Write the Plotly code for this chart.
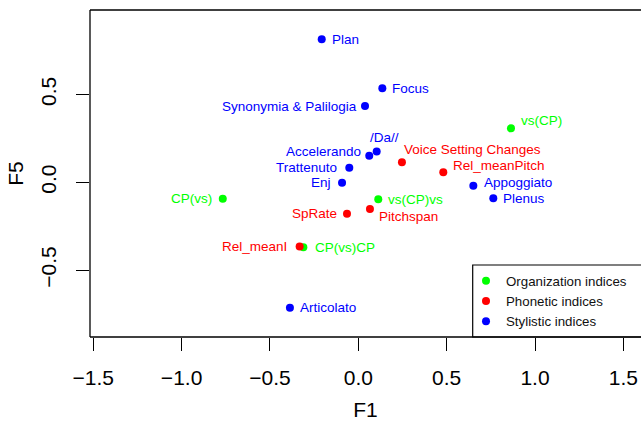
import plotly.graph_objects as go

# ---- data ----
org_labels = ["CP(vs)", "vs(CP)vs", "CP(vs)CP", "vs(CP)"]
org_x = [-0.767, 0.113, -0.311, 0.864]
org_y = [-0.093, -0.097, -0.370, 0.307]

phon_labels = ["Voice Setting Changes", "Rel_meanPitch", "SpRate", "Pitchspan", "Rel_meanI"]
phon_x = [0.247, 0.481, -0.064, 0.066, -0.332]
phon_y = [0.114, 0.057, -0.179, -0.152, -0.366]

sty_labels = ["Plan", "Focus", "Synonymia & Palilogia", "/Da//", "Accelerando",
              "Trattenuto", "Enj", "Appoggiato", "Plenus", "Articolato"]
sty_x = [-0.207, 0.136, 0.038, 0.104, 0.062, -0.051, -0.092, 0.651, 0.764, -0.387]
sty_y = [0.814, 0.535, 0.434, 0.176, 0.151, 0.083, -0.002, -0.019, -0.091, -0.714]

group_names = ["Organization indices", "Phonetic indices", "Stylistic indices"]
x_ticks = [-1.5, -1.0, -0.5, 0.0, 0.5, 1.0, 1.5]
y_ticks = [-0.5, 0.0, 0.5]

# ---- label placement (anchor, dx px, dy px) ----
label_place = {
    "CP(vs)": ("right", -9, 0), "vs(CP)vs": ("left", 8, 0), "CP(vs)CP": ("left", 10, 0),
    "vs(CP)": ("left", 8, 7.5),
    "Voice Setting Changes": ("left", 0, 13), "Rel_meanPitch": ("left", 8, 7),
    "SpRate": ("right", -8, 0), "Pitchspan": ("left", 7, -7), "Rel_meanI": ("right", -11, 0),
    "Plan": ("left", 8, 0), "Focus": ("left", 8, 0), "Synonymia & Palilogia": ("right", -6, 0),
    "/Da//": ("center", 8, 14), "Accelerando": ("right", -6, 4), "Trattenuto": ("right", -10, 0),
    "Enj": ("right", -9, 0), "Appoggiato": ("left", 9, 3.5), "Plenus": ("left", 8, 0),
    "Articolato": ("left", 8.5, 0),
}

FONT = "Liberation Sans, Arial, Helvetica, sans-serif"
groups = [
    (group_names[0], org_x, org_y, org_labels, "#00ff00"),
    (group_names[1], phon_x, phon_y, phon_labels, "#ff0000"),
    (group_names[2], sty_x, sty_y, sty_labels, "#0000ff"),
]

fig = go.Figure()
annotations = []
for name, xs, ys, labs, col in groups:
    fig.add_trace(go.Scatter(
        x=xs, y=ys, mode="markers", name=name,
        marker=dict(color=col, size=8, line=dict(width=0)),
        hoverinfo="text", text=labs,
    ))
    for x, y, lab in zip(xs, ys, labs):
        anc, dx, dy = label_place[lab]
        annotations.append(dict(
            x=x, y=y, xref="x", yref="y", text=lab, showarrow=False,
            xanchor=anc, yanchor="middle", xshift=dx, yshift=dy,
            font=dict(family=FONT, size=13.5, color=col),
        ))

W, H = 641, 426
L, R, T, B = 90, 0, 10, 89
pw, ph = W - L - R, H - T - B

line = dict(color="black", width=1.3)
shapes = [
    dict(type="line", xref="paper", yref="paper", x0=0, x1=0, y0=0, y1=1, line=line),
    dict(type="line", xref="paper", yref="paper", x0=0, x1=1.05, y0=1, y1=1, line=line),
    dict(type="line", xref="paper", yref="paper", x0=0, x1=1.05, y0=0, y1=0, line=line),
    # legend frame
    dict(type="rect", xref="paper", yref="paper",
         x0=(472.7 - L) / pw, x1=1.05, y0=0, y1=(H - B - 265) / ph,
         line=dict(color="black", width=1.2), fillcolor="white", layer="below"),
]

fig.update_layout(
    width=W, height=H,
    margin=dict(l=L, r=R, t=T, b=B, pad=0),
    paper_bgcolor="white", plot_bgcolor="white",
    font=dict(family=FONT, color="black"),
    shapes=shapes,
    annotations=annotations,
    showlegend=True,
    legend=dict(
        x=(466 - L) / pw, y=(H - B - 265.5) / ph, xanchor="left", yanchor="top",
        bgcolor="rgba(0,0,0,0)", borderwidth=0,
        font=dict(family=FONT, size=13.3, color="#111"),
        tracegroupgap=0, itemwidth=30,
    ),
    xaxis=dict(
        range=[-1.5184, 1.5999], showgrid=False, zeroline=False, showline=False,
        tickmode="array", tickvals=x_ticks, ticktext=[("\u2212" if v < 0 else "") + f"{abs(v):.1f}" for v in x_ticks],
        ticks="outside", ticklen=13, tickwidth=1.3, tickcolor="black", ticklabelstandoff=9,
        tickfont=dict(family=FONT, size=21, color="black"),
        title=dict(text="F1", font=dict(family=FONT, size=21, color="black"), standoff=14),
    ),
    yaxis=dict(
        range=[-0.8805, 0.9807], showgrid=False, zeroline=False, showline=False,
        tickmode="array", tickvals=y_ticks, ticktext=[("\u2212" if v < 0 else "") + f"{abs(v):.1f}" for v in y_ticks],
        ticks="outside", ticklen=13, tickwidth=1.3, tickcolor="black", tickangle=-90,
        ticklabelstandoff=12,
        tickfont=dict(family=FONT, size=21, color="black"),
        title=dict(text="F5", font=dict(family=FONT, size=21, color="black"), standoff=7),
    ),
)

fig.write_html("out.html")
